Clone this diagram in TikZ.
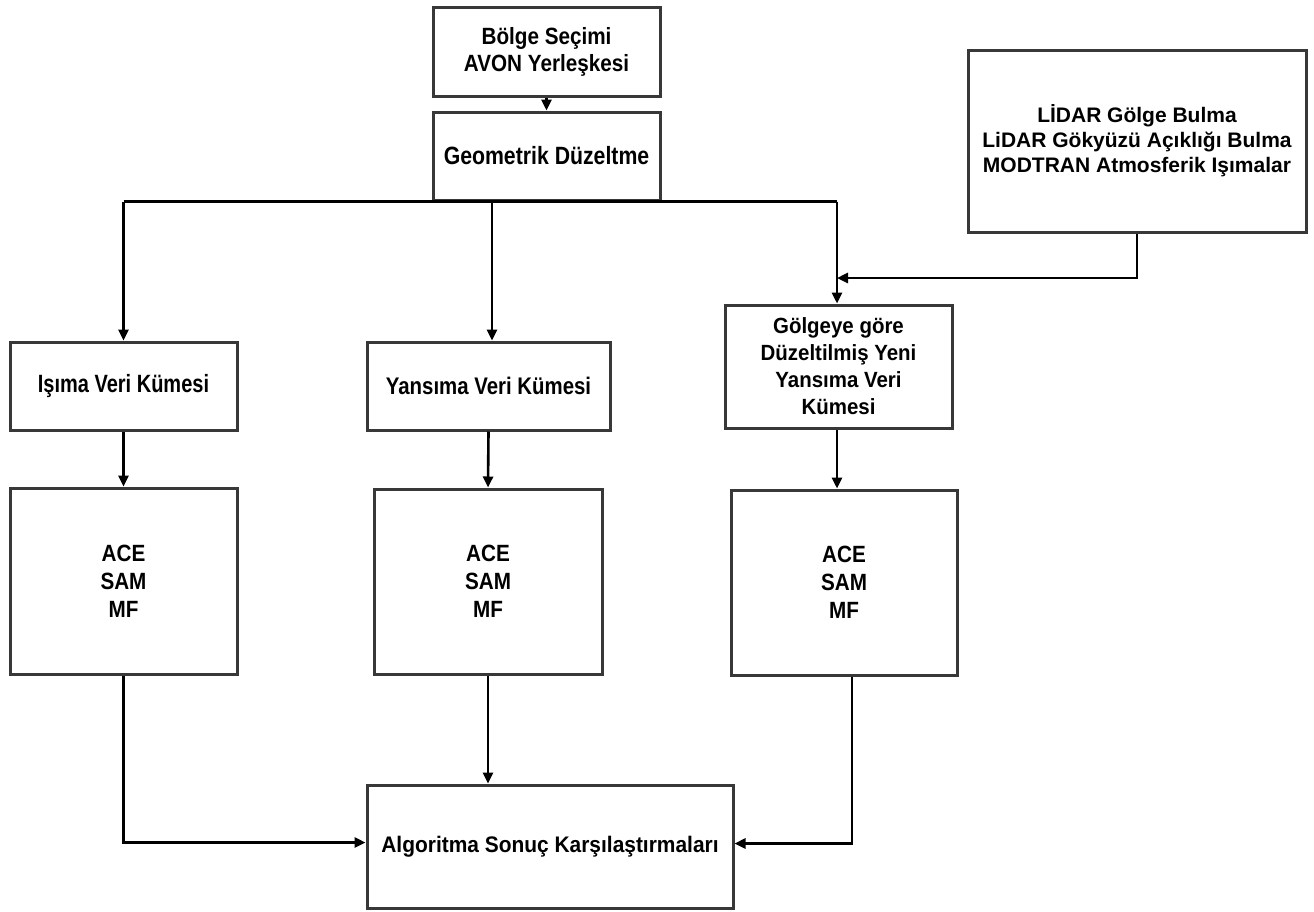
\documentclass[tikz,border=0pt]{standalone}
\usepackage{fontspec}
\setmainfont{Liberation Sans}
\newfontfamily\fA[FakeStretch=0.80]{Liberation Sans}
\newfontfamily\fB[FakeStretch=0.85]{Liberation Sans}
\newfontfamily\fC[FakeStretch=0.88]{Liberation Sans}
\newfontfamily\fD[FakeStretch=0.93]{Liberation Sans}
\newfontfamily\fE{Liberation Sans}
\usetikzlibrary{arrows.meta}
\definecolor{boxgray}{HTML}{383838}
\tikzset{
  box/.style={draw=boxgray, line width=3pt, fill=white, align=center, inner sep=2pt, text=black},
  conn/.style={draw=black, line width=2.6pt},
  arr/.style={conn, -{Triangle[length=11pt,width=10pt]}},
}
\begin{document}
\begin{tikzpicture}[x=1pt,y=-1pt]
\useasboundingbox[fill=white] (0,0) rectangle (1314,911);

\node[box, minimum width=227pt, minimum height=89pt, font=\fC\bfseries\fontsize{23.5}{27}\selectfont]
  (b1) at (546.5,51.5) {Bölge Seçimi\\AVON Yerleşkesi};
\node[box, minimum width=227pt, minimum height=88pt, font=\fB\bfseries\fontsize{25}{27}\selectfont]
  (b2) at (546.5,156) {Geometrik Düzeltme};
\node[box, minimum width=338pt, minimum height=182pt, font=\fE\bfseries\fontsize{21}{25}\selectfont]
  (lidar) at (1137,141) {LİDAR Gölge Bulma\\LiDAR Gökyüzü Açıklığı Bulma\\MODTRAN Atmosferik Işımalar};
\node[box, minimum width=227pt, minimum height=88pt, font=\fA\bfseries\fontsize{25}{27}\selectfont]
  (isima) at (123.5,386) {Işıma Veri Kümesi};
\node[box, minimum width=243pt, minimum height=88pt, font=\fB\bfseries\fontsize{24}{27}\selectfont]
  (yans) at (488.5,386) {Yansıma Veri Kümesi};
\node[box, minimum width=227pt, minimum height=123pt, font=\fD\bfseries\fontsize{22}{27}\selectfont]
  (golge) at (838.5,366.5) {Gölgeye göre\\Düzeltilmiş Yeni\\Yansıma Veri\\Kümesi};
\node[box, minimum width=227pt, minimum height=186pt, font=\fC\bfseries\fontsize{23.5}{28}\selectfont]
  (ace1) at (123.5,581) {ACE\\SAM\\MF};
\node[box, minimum width=228pt, minimum height=185pt, font=\fC\bfseries\fontsize{23.5}{28}\selectfont]
  (ace2) at (488,581.5) {ACE\\SAM\\MF};
\node[box, minimum width=226pt, minimum height=185pt, font=\fC\bfseries\fontsize{23.5}{28}\selectfont]
  (ace3) at (844,582.5) {ACE\\SAM\\MF};
\node[box, minimum width=366pt, minimum height=123pt, font=\fD\bfseries\fontsize{22.5}{27}\selectfont]
  (alg) at (550,846.5) {Algoritma Sonuç Karşılaştırmaları};

\coordinate (jn) at (837,278);

% top
\draw[arr] (b1.south) -- (b2.north);
\draw[conn] (b2.south -| isima.north) -- (b2.south -| jn);
\draw[arr] (b2.south -| isima.north) -- (isima.north);
\draw[arr] (b2.south -| 492,0) -- (yans.north -| 492,0);
\draw[arr] (b2.south -| jn) -- (golge.north -| jn);
\draw[arr] (lidar.south) |- (jn);

% middle
\draw[arr] (isima.south) -- (ace1.north);
\draw[arr] (yans.south) -- (ace2.north);
\draw[arr] (golge.south -| jn) -- (ace3.north -| jn);

% bottom
\draw[arr] (ace2.south) -- (ace2.south |- alg.north);
\draw[arr] (ace1.south) |- ([yshift=4pt]alg.west);
\draw[arr] ([xshift=8pt]ace3.south) |- ([yshift=3pt]alg.east);
\end{tikzpicture}
\end{document}
